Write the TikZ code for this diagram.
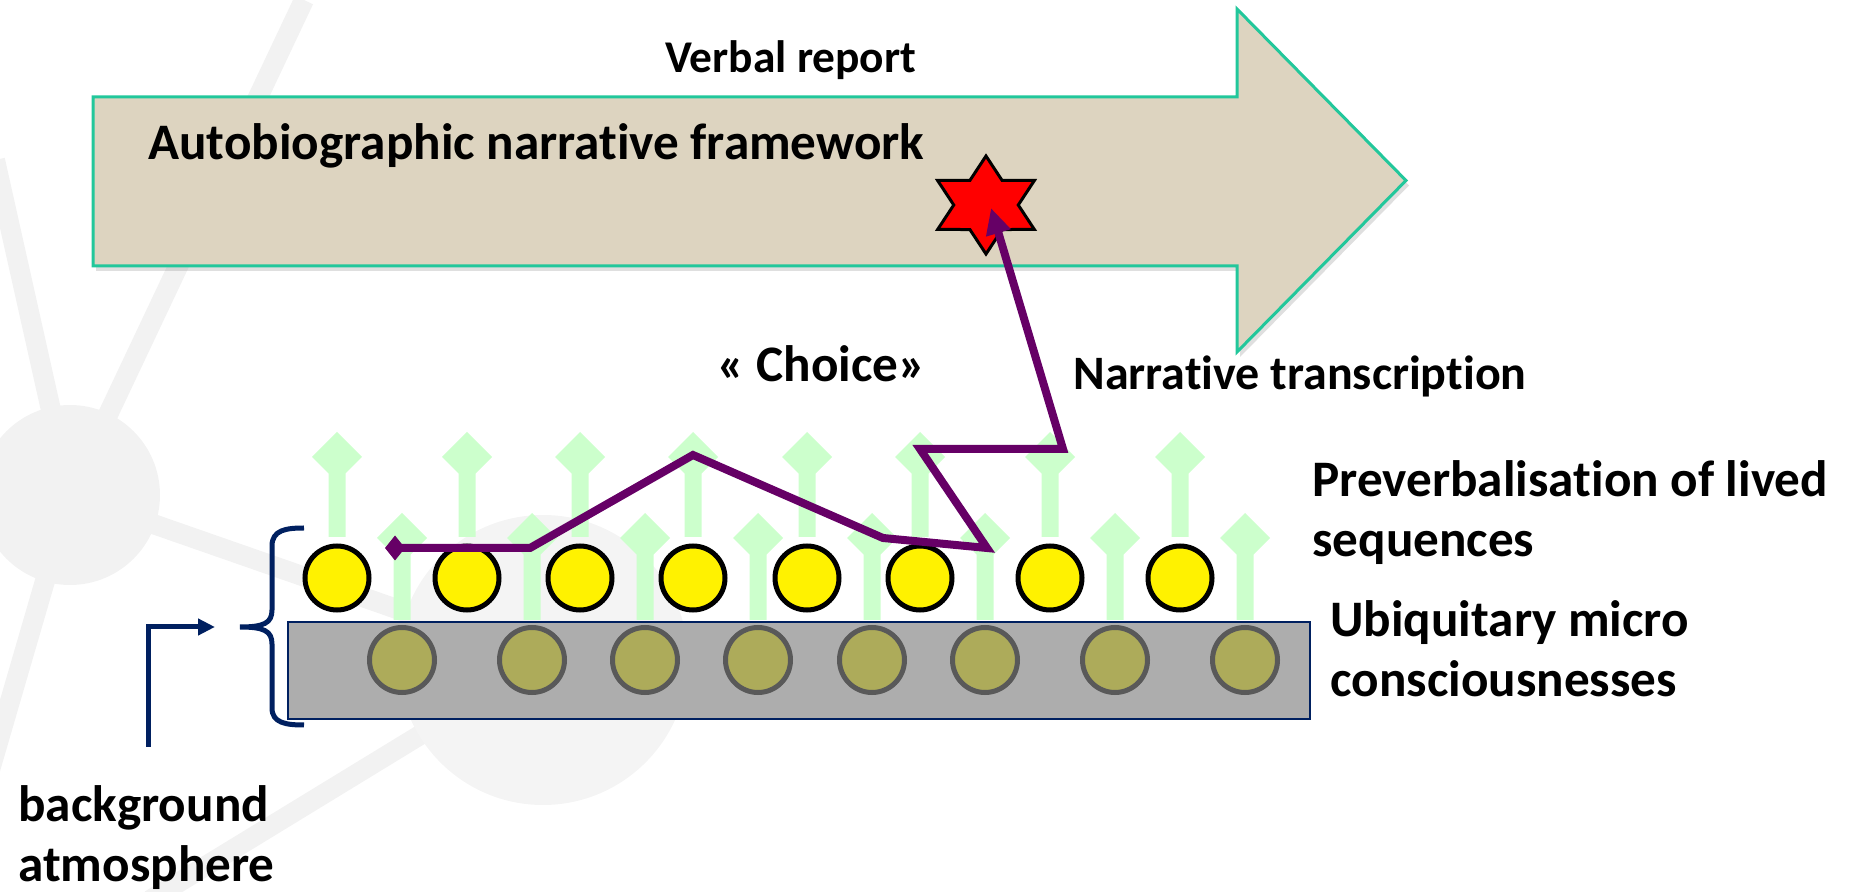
\documentclass[tikz,border=0pt]{standalone}
\usepackage{fontspec}
\setmainfont{Carlito}[Ligatures={NoCommon,NoContextual}]
\usetikzlibrary{arrows.meta,shadows}
\definecolor{navy}{HTML}{002060}
\definecolor{tealline}{HTML}{22C79B}
\definecolor{linen}{HTML}{DDD4C0}
\definecolor{paleg}{HTML}{CCFFCC}
\definecolor{olivefill}{HTML}{ADAB5A}
\definecolor{boxgrey}{HTML}{ADADAD}
\definecolor{rimgrey}{HTML}{595959}
\definecolor{plum}{HTML}{660066}
\definecolor{bgnet}{HTML}{F2F2F2}
\definecolor{bgnetb}{HTML}{F4F4F4}
\begin{document}
\begin{tikzpicture}[x=0.5pt,y=-0.5pt,
  lbl/.style={font=\bfseries\fontsize{25.6}{30}\selectfont, inner sep=0pt, anchor=base west},
  yel/.style={circle, draw=black, line width=2.5pt, fill=yellow, minimum size=32pt, inner sep=0pt},
  oli/.style={circle, draw=rimgrey, line width=2.5pt, fill=olivefill, minimum size=32.5pt, inner sep=0pt},
  net/.style={draw=bgnet, line width=10pt},
  netdot/.style={fill=bgnet},
  purpline/.style={draw=plum, line width=4pt},
  navyline/.style={draw=navy, line width=2.5pt}]
\useasboundingbox (0,0) rectangle (1849,892);
% background network
\begin{scope}
\clip (0,0) rectangle (1849,892);
\draw[net] (304,0) -- (70,495);
\draw[net] (-5,160) -- (70,495);
\draw[net] (70,495) -- (-10,770);
\draw[net] (70,495) -- (543,660);
\draw[net] (543,660) -- (150,900);
\fill[netdot] (70,495) circle[radius=90];
\fill[bgnetb] (543,660) circle[radius=145];
\end{scope}
% big arrow
\draw[tealline, line width=1.5pt, fill=linen, drop shadow={opacity=0.25,shadow xshift=1.5pt,shadow yshift=-2.5pt}]
  (93,97) -- (1237,97) -- (1237,9) -- (1406,180.5) -- (1237,352) -- (1237,266) -- (93,266) -- cycle;
% labels
\node[lbl, font=\bfseries\fontsize{22.7}{28}\selectfont] (verbal) at (665,73) {Verbal report};
\node[lbl] (auto) at (148,160) {Autobiographic narrative framework};
\node[lbl] (choice) at (717,382) {« Choice»};
\node[lbl, font=\bfseries\fontsize{24}{30}\selectfont] (narr) at (1073,390) {Narrat\kern0pt ive transcript\kern0pt ion};
\node[lbl] (pre1) at (1312,497) {Preverbalisat\kern0pt ion of lived};
\node[lbl] (pre2) at (1312,557) {sequences};
\node[lbl] (ubi1) at (1330,637) {Ubiquitary micro};
\node[lbl] (ubi2) at (1330,697) {consciousnesses};
\node[lbl] (bg1) at (18,822) {background};
\node[lbl] (bg2) at (18,882) {atmosphere};
% grey band
\draw[fill=boxgrey, draw=navy, line width=1pt] (288,622) rectangle (1310,719);
% green arrows
\foreach \x in {337,467,580,693,807,920,1050,1180}
  \fill[paleg] ({\x-8.5},537) -- ({\x-8.5},473.5) -- ({\x-25},457) -- (\x,432) -- ({\x+25},457) -- ({\x+8.5},473.5) -- ({\x+8.5},537) -- cycle;
\foreach \x in {402,532,645,758,872,985,1115,1245}
  \fill[paleg] ({\x-8.5},620) -- ({\x-8.5},554.5) -- ({\x-25},538) -- (\x,513) -- ({\x+25},538) -- ({\x+8.5},554.5) -- ({\x+8.5},620) -- cycle;
% circles
\foreach \x [count=\i] in {337,467,580,693,807,920,1050,1180}
  \node[yel] (y\i) at (\x,578) {};
\foreach \x [count=\i] in {402,532,645,758,872,985,1115,1245}
  \node[oli] (o\i) at (\x,660) {};
% brace
\draw[navyline] (304,528) .. controls (286,528) and (272,530) .. (272,546) -- (272,610)
  .. controls (272,623) and (264,627) .. (240,627)
  .. controls (264,627) and (272,631) .. (272,644) -- (272,708)
  .. controls (272,723) and (286,725) .. (304,725);
% bracket arrow
\coordinate (bgfoot) at (148,747);
\coordinate (bgtip) at (215,627);
\draw[navyline, -{Triangle[length=8.5pt,width=8pt]}] (bgfoot) |- (bgtip);
% star
\coordinate (star) at (986,205);
\begin{scope}[shift={(star)}, xscale=1.14]
\draw[fill=red, draw=black, line width=1.5pt]
  (90:49) -- (60:28.3) -- (30:49) -- (0:28.3) -- (-30:49) -- (-60:28.3) -- (-90:49)
  -- (-120:28.3) -- (-150:49) -- (180:28.3) -- (150:49) -- (120:28.3) -- cycle;
\end{scope}
% purple path
\coordinate (p0) at (385,548);
\coordinate (p1) at (530,548);
\coordinate (p2) at (693,455);
\coordinate (p3) at (883,538);
\coordinate (p4) at (987,548);
\coordinate (p5) at (920,449);
\coordinate (p6) at (1063,449);
\coordinate (p7) at (991,208);
\draw[purpline, {Diamond[length=10pt,width=12.5pt]}-{Triangle[length=13pt,width=12pt]}]
  (p0) -- (p1) -- (p2) -- (p3) -- (p4) -- (p5) -- (p6) -- (p7);
\end{tikzpicture}
\end{document}
